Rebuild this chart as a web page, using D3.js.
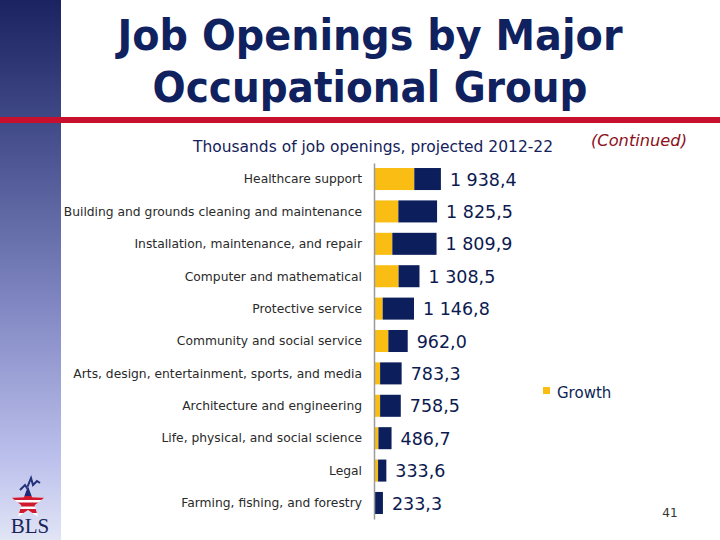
<!DOCTYPE html>
<html>
<head>
<meta charset="utf-8">
<script src="https://cdn.jsdelivr.net/npm/d3@7"></script>
<style>
body{margin:0;padding:0;background:#ffffff;}
svg{display:block;}
</style>
</head>
<body>
<div id="ChartPart"></div>
<script>
//Data of the chart------------------------------------------------------------------------------------------------
var Categories = [
	"Healthcare support",
	"Building and grounds cleaning and maintenance",
	"Installation, maintenance, and repair",
	"Computer and mathematical",
	"Protective service",
	"Community and social service",
	"Arts, design, entertainment, sports, and media",
	"Architecture and engineering",
	"Life, physical, and social science",
	"Legal",
	"Farming, fishing, and forestry"
];
var TotalOpenings = [1938.4, 1825.5, 1809.9, 1308.5, 1146.8, 962.0, 783.3, 758.5, 486.7, 333.6, 233.3];
var GrowthOpenings = [1155, 686, 509, 693, 226, 392, 150, 150, 100, 90, 0];
var TotalLabels = ["1 938,4", "1 825,5", "1 809,9", "1 308,5", "1 146,8", "962,0", "783,3", "758,5", "486,7", "333,6", "233,3"];
var LegendNames = ["Growth"];

var Width = 720;
var Height = 540;
var Navy = "#0c1f5c";
var Gold = "#f9bd14";

var ChartSvg = d3.select("#ChartPart")
	.append("svg")
	.attr("width", Width)
	.attr("height", Height);

//Background and side band------------------------------------------------------------------------------------------
function DrawBackground()
{
	var Defs = ChartSvg.append("defs");
	var Grad = Defs.append("linearGradient")
		.attr("id", "SideGrad")
		.attr("x1", 0).attr("y1", 0)
		.attr("x2", 0).attr("y2", 1);
	Grad.append("stop").attr("offset", "0%").attr("stop-color", "#1b2361");
	Grad.append("stop").attr("offset", "22%").attr("stop-color", "#3f4985");
	Grad.append("stop").attr("offset", "55%").attr("stop-color", "#7d84c0");
	Grad.append("stop").attr("offset", "85%").attr("stop-color", "#bcc0ec");
	Grad.append("stop").attr("offset", "100%").attr("stop-color", "#e1e5f5");

	ChartSvg.append("rect")
		.attr("x", 0).attr("y", 0)
		.attr("width", 61).attr("height", Height)
		.style("fill", "url(#SideGrad)");

	ChartSvg.append("rect")
		.attr("x", 0).attr("y", 117)
		.attr("width", Width).attr("height", 6)
		.style("fill", "#c8102e");
}

//Title and subtitle-------------------------------------------------------------------------------------------------
function WriteTitle()
{
	var TitleLines = [["Job Openings by Major", 50, 505], ["Occupational Group", 102, 435]];
	ChartSvg.selectAll(".TitleLine")
		.data(TitleLines)
		.enter()
		.append("text")
		.attr("class", "TitleLine")
		.attr("x", 370)
		.attr("y", function(d){ return d[1]; })
		.attr("text-anchor", "middle")
		.attr("textLength", function(d){ return d[2]; })
		.attr("lengthAdjust", "spacingAndGlyphs")
		.style("font-family", "DejaVu Sans, sans-serif")
		.style("font-weight", "bold")
		.style("font-size", "42px")
		.style("fill", "#0f215e")
		.text(function(d){ return d[0]; });

	ChartSvg.append("text")
		.attr("x", 193)
		.attr("y", 152)
		.attr("textLength", 360)
		.attr("lengthAdjust", "spacingAndGlyphs")
		.style("font-family", "DejaVu Sans, sans-serif")
		.style("font-size", "15px")
		.style("fill", "#14215a")
		.text("Thousands of job openings, projected 2012-22");

	ChartSvg.append("text")
		.attr("x", 591)
		.attr("y", 146)
		.attr("textLength", 96)
		.attr("lengthAdjust", "spacingAndGlyphs")
		.style("font-family", "DejaVu Sans, sans-serif")
		.style("font-style", "italic")
		.style("font-size", "15px")
		.style("fill", "#8b1020")
		.text("(Continued)");
}

//Bars----------------------------------------------------------------------------------------------------------------
function DrawBars()
{
	var XScale = d3.scaleLinear().domain([0, 2000]).range([375, 443]);
	var YScale = d3.scaleBand()
		.domain(Categories)
		.range([163, 519])
		.paddingInner(0.32)
		.paddingOuter(0.155);

	var Rows = Categories.map(function(c, i){
		return {name: c, total: TotalOpenings[i], growth: GrowthOpenings[i], label: TotalLabels[i]};
	});

	//growth part
	ChartSvg.selectAll(".GrowthBar")
		.data(Rows)
		.enter()
		.append("rect")
		.attr("class", "GrowthBar")
		.attr("x", XScale(0))
		.attr("y", function(d){ return YScale(d.name); })
		.attr("width", function(d){ return XScale(d.growth) - XScale(0); })
		.attr("height", YScale.bandwidth())
		.style("fill", Gold);

	//replacement part
	ChartSvg.selectAll(".ReplaceBar")
		.data(Rows)
		.enter()
		.append("rect")
		.attr("class", "ReplaceBar")
		.attr("x", function(d){ return XScale(d.growth); })
		.attr("y", function(d){ return YScale(d.name); })
		.attr("width", function(d){ return XScale(d.total) - XScale(d.growth); })
		.attr("height", YScale.bandwidth())
		.style("fill", Navy);

	//axis line
	var YAxis = ChartSvg.append("g")
		.attr("transform", "translate(" + 374 + ",0)")
		.call(d3.axisLeft(YScale).tickSize(0).tickFormat(""));
	YAxis.select(".domain").attr("stroke", "#9a9a9a").attr("stroke-width", 1.5);

	//category names
	ChartSvg.selectAll(".CatLabel")
		.data(Rows)
		.enter()
		.append("text")
		.attr("class", "CatLabel")
		.attr("x", 362)
		.attr("y", function(d){ return YScale(d.name) + YScale.bandwidth()/2; })
		.attr("dy", "0.35em")
		.attr("text-anchor", "end")
		.style("font-family", "DejaVu Sans, sans-serif")
		.style("font-size", "12.3px")
		.style("fill", "#2a2a2a")
		.text(function(d){ return d.name; });

	//total values
	ChartSvg.selectAll(".ValueLabel")
		.data(Rows)
		.enter()
		.append("text")
		.attr("class", "ValueLabel")
		.attr("x", function(d){ return XScale(d.total) + 9; })
		.attr("y", function(d){ return YScale(d.name) + YScale.bandwidth()/2; })
		.attr("dy", "0.38em")
		.style("font-family", "DejaVu Sans, sans-serif")
		.style("font-size", "17.5px")
		.style("fill", "#0c1a4f")
		.text(function(d){ return d.label; });
}

//Legend and page parts-----------------------------------------------------------------------------------------------
function DrawLegend()
{
	var Legend = ChartSvg.selectAll(".LegendItem")
		.data(LegendNames)
		.enter()
		.append("g")
		.attr("class", "LegendItem")
		.attr("transform", "translate(543,387)");
	Legend.append("rect")
		.attr("width", 7).attr("height", 7)
		.style("fill", Gold);
	Legend.append("text")
		.attr("x", 14)
		.attr("y", 11)
		.style("font-family", "DejaVu Sans, sans-serif")
		.style("font-size", "15px")
		.style("fill", "#0f1f55")
		.text(function(d){ return d; });

	ChartSvg.append("text")
		.attr("x", 670)
		.attr("y", 517)
		.attr("text-anchor", "middle")
		.style("font-family", "DejaVu Sans, sans-serif")
		.style("font-size", "12px")
		.style("fill", "#333333")
		.text("41");
}

function DrawLogo()
{
	var Logo = ChartSvg.append("g");
	//little line above the star
	Logo.append("path")
		.attr("d", "M20,490 L25,485 L27,488 L31,478 L33,485 L37,481 L40,483")
		.style("fill", "none")
		.style("stroke", "#23307a")
		.style("stroke-width", 2);
	//star
	var StarPoints = [];
	for(var i=0;i<10;i++)
		{
			var R = (i % 2 == 0) ? 17 : 7;
			var A = -Math.PI/2 + i*Math.PI/5;
			StarPoints.push([28 + R*Math.cos(A), 503 + R*Math.sin(A)]);
		}
	Logo.append("clipPath").attr("id", "StarClip")
		.append("polygon")
		.attr("points", StarPoints.map(function(p){ return p.join(","); }).join(" "));
	var StarG = Logo.append("g").attr("clip-path", "url(#StarClip)");
	StarG.append("rect").attr("x", 8).attr("y", 484).attr("width", 40).attr("height", 34).style("fill", "#ffffff");
	StarG.append("rect").attr("x", 8).attr("y", 484).attr("width", 40).attr("height", 12).style("fill", "#1e2a78");
	[496, 502.5, 509].forEach(function(y){
		StarG.append("rect").attr("x", 8).attr("y", y).attr("width", 40).attr("height", 4).style("fill", "#d0192e");
	});
	Logo.append("text")
		.attr("x", 30)
		.attr("y", 533)
		.attr("text-anchor", "middle")
		.style("font-family", "Liberation Serif, serif")
		.style("font-size", "21px")
		.style("fill", "#1a2458")
		.text("BLS");
}

DrawBackground();
WriteTitle();
DrawBars();
DrawLegend();
DrawLogo();
</script>
</body>
</html>
